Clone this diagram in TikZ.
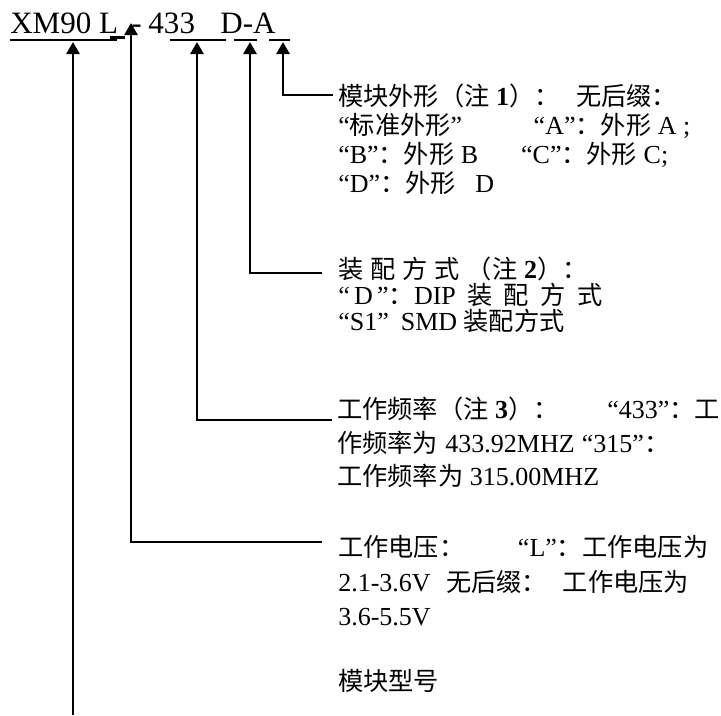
\documentclass[tikz,border=0pt]{standalone}
\usepackage{fontspec}
\setmainfont{Liberation Serif}
\newfontfamily\zhfont{Noto Sans CJK SC}[Scale=0.97]
\newcommand{\zh}[1]{{\zhfont #1}}
\newcommand{\jline}[2]{\hbox to #1{#2}}
\usepackage{tikz}
\usetikzlibrary{arrows.meta}

\begin{document}
\begin{tikzpicture}[x=0.75pt,y=-0.75pt,
		tip/.style={line width=2pt,-{Triangle[width=9.75pt,length=9pt]}},
		uline/.style={line width=1.9pt},
		note/.style={anchor=north west,inner sep=0pt,align=left}]
		\useasboundingbox (0,0) rectangle (721,715); %画布
		\node [anchor=base west,inner sep=0pt,font=\fontsize{23.3}{28}\selectfont] (pn) at (10,33) {XM90 L\hspace{10pt}-\hspace{5pt}433\hspace{19pt}D-A}; %型号
		\draw [uline] (10,40)--(117,40); %下划线
		\draw [uline] (110,37.5)--(125,37.5);
		\draw [uline] (170,40)--(226,40);
		\draw [uline] (234,40)--(257,40);
		\draw [uline] (269,40)--(290,40);
		\coordinate (pXM) at (73,42); %箭头端点
		\coordinate (pL) at (131,23);
		\coordinate (pF) at (197,42);
		\coordinate (pD) at (250,42);
		\coordinate (pA) at (283,42);
		\coordinate (eA) at (333,95); %引线起点
		\coordinate (eD) at (322,273);
		\coordinate (eF) at (332,420);
		\coordinate (eL) at (322,542);
		\coordinate (eXM) at (73,715);
		\node [note,font=\fontsize{19.5}{21.6}\selectfont] (shape) at (338,84) {%
			\jline{254pt}{\zh{模块外形（注}~\textbf{1}\zh{）：}\hfill\zh{无后缀：}}\\
			\jline{264pt}{“\zh{标准外形}”\hfill“A”\zh{：外形}~A~;}\\
			\jline{247.5pt}{“B”\zh{：外形}~B~\hfill“C”\zh{：外形}~C;}\\
			“D”\zh{：外形}~~~D}; %模块外形
		\node [note,font=\fontsize{19.5}{19.5}\selectfont] (mount) at (338,257) {%
			\jline{187pt}{\zh{装}\hfill\zh{配}\hfill\zh{方}\hfill\zh{式}\hfill\zh{（注}\hfill\textbf{2}\zh{）：}}\\
			\jline{198pt}{“\,D\,”\zh{：}DIP\hfill\zh{装}\hfill\zh{配}\hfill\zh{方}\hfill\zh{式}}\\
			“S1”\hspace{9pt}SMD~\zh{装配方式}}; %装配方式
		\node [note,font=\fontsize{19.5}{25}\selectfont] (freq) at (337,397) {%
			\jline{287pt}{\zh{工作频率（注}~\textbf{3}\zh{）：}\hfill“433”\zh{：工}}\\
			\jline{249pt}{\zh{作频率为}\hfill433.92MHZ\hfill“315”\zh{：}}\\
			\zh{工作频率为}~315.00MHZ}; %工作频率
		\node [note,font=\fontsize{19.5}{26}\selectfont] (volt) at (338,535) {%
			\jline{277.5pt}{\zh{工作电压：}\hfill“L”\zh{：工作电压为}}\\
			\jline{263pt}{2.1-3.6V\hfill\zh{无后缀：}\hfill\zh{工作电压为}}\\
			3.6-5.5V}; %工作电压
		\node [note,font=\fontsize{19.5}{26}\selectfont] (model) at (338,669) {\zh{模块型号}}; %模块型号
		\draw [tip] (eA) -| (pA);
		\draw [tip] (eD) -| (pD);
		\draw [tip] (eF) -| (pF);
		\draw [tip] (eL) -| (pL);
		\draw [tip] (eXM) -- (pXM);
	\end{tikzpicture}
\end{document}
